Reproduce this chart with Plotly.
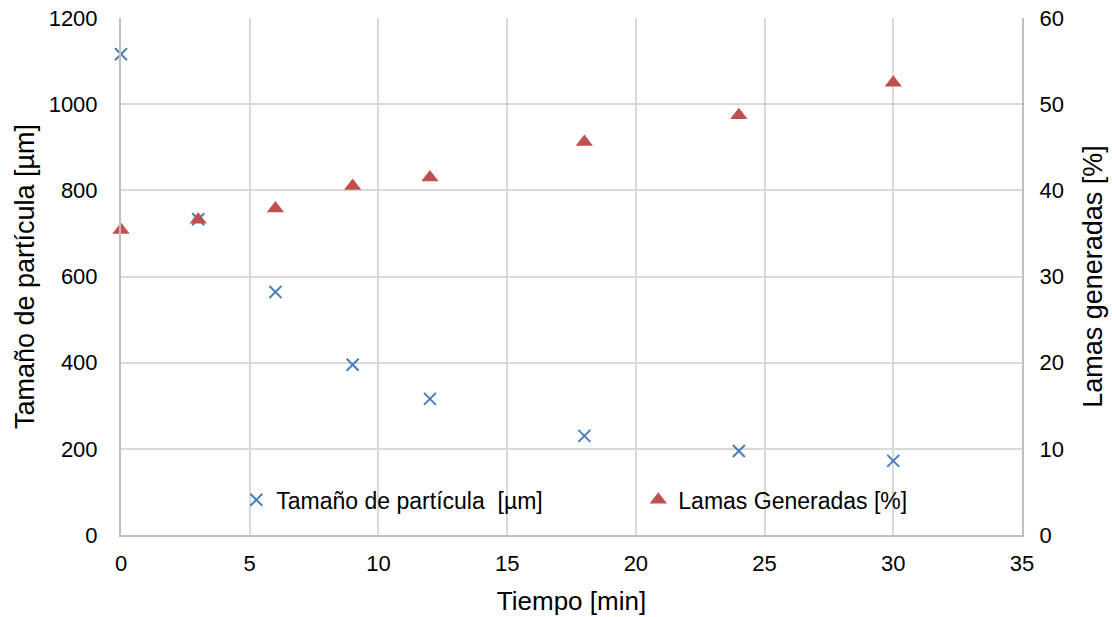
import plotly.graph_objects as go

tiempo = [0, 3, 6, 9, 12, 18, 24, 30]
tamano = [1116, 733, 564, 395, 316, 230, 195, 172]
lamas = [35.4, 36.6, 37.9, 40.5, 41.5, 45.6, 48.7, 52.5]

font = dict(family="Liberation Sans, Arial, sans-serif", size=22, color="#000000")

fig = go.Figure()
fig.add_trace(go.Scatter(
    x=tiempo, y=tamano, mode="markers", name="Tamaño de partícula  [µm]",
    marker=dict(symbol="x-thin", size=12, line=dict(width=2, color="#4a7ebb"), color="#4a7ebb"),
    yaxis="y", cliponaxis=False,
))
fig.add_trace(go.Scatter(
    x=tiempo, y=lamas, mode="markers", name="Lamas Generadas [%]",
    marker=dict(symbol="triangle-up", size=15, color="#c0504d"),
    yaxis="y2", cliponaxis=False,
))

fig.update_layout(
    width=1112, height=617,
    margin=dict(l=121, r=90, t=18, b=82),
    paper_bgcolor="white", plot_bgcolor="white",
    font=font,
    showlegend=True,
    legend=dict(
        orientation="h", x=0.128, y=0.068, xanchor="left", yanchor="middle",
        bgcolor="rgba(0,0,0,0)", font=dict(size=23),
        entrywidth=357, entrywidthmode="pixels", itemwidth=30,
    ),
    xaxis=dict(
        range=[0, 35], dtick=5, tick0=0, automargin=False,
        showgrid=True, gridcolor="#d9d9d9", gridwidth=2,
        showline=True, linecolor="#bfbfbf", linewidth=2,
        zeroline=False, ticks="", ticklabelstandoff=8,
        title=dict(text="Tiempo [min]", font=dict(size=26), standoff=16),
    ),
    yaxis=dict(
        range=[0, 1200], dtick=200, automargin=False,
        showgrid=True, gridcolor="#d9d9d9", gridwidth=2,
        showline=True, linecolor="#bfbfbf", linewidth=2,
        zeroline=False, ticks="", ticklabelstandoff=17,
        title=dict(text="Tamaño de partícula [µm]", font=dict(size=27), standoff=6),
    ),
    yaxis2=dict(
        range=[0, 60], dtick=10, overlaying="y", side="right", automargin=False,
        showgrid=False, showline=True, linecolor="#bfbfbf", linewidth=2,
        zeroline=False, ticks="", ticklabelstandoff=11,
        title=dict(text="Lamas generadas [%]", font=dict(size=27), standoff=20),
    ),
)

fig.write_html("out.html")
